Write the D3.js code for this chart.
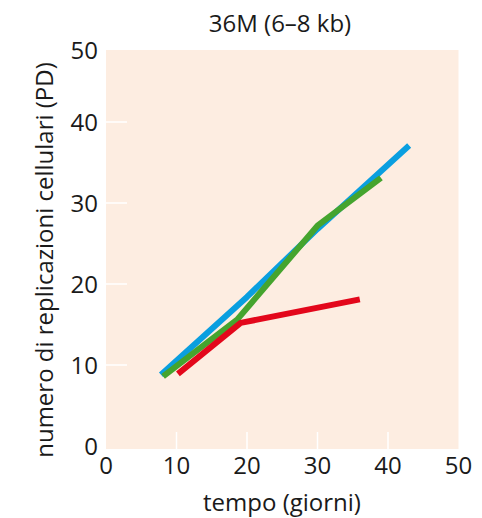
<!DOCTYPE html>
<html>
<head>
<meta charset="utf-8">
<script src="https://cdn.jsdelivr.net/npm/d3@7"></script>
<style>
  body { margin: 0; background: #fff; }
  text { font-family: "Open Sans", "Noto Sans", sans-serif; fill: #1a1a1a; }
</style>
</head>
<body>
<div id="chart"></div>
<script>
// Data
var xTicks = [0, 10, 20, 30, 40, 50];
var yTicks = [0, 10, 20, 30, 40, 50];
var blueLine = [[7.8, 8.8], [20, 18.4], [30, 26.8], [43, 37.1]];
var greenLine = [[8.1, 8.6], [18.6, 15.6], [30, 27.2], [39, 33.1]];
var redLine = [[10.2, 8.9], [19.1, 15.2], [36, 18.1]];

var width = 482;
var height = 518;

var svg = d3.select("#chart").append("svg")
  .attr("width", width)
  .attr("height", height);

var xScale = d3.scaleLinear().domain([0, 50]).range([106, 458.5]);
// the printed figure squeezes the top interval a bit
var yScale = d3.scaleLinear().domain([0, 40, 50]).range([446, 122, 50]);

/* plot background */
svg.append("rect")
  .attr("x", xScale(0))
  .attr("y", yScale(50))
  .attr("width", xScale(50) - xScale(0))
  .attr("height", yScale(0) - yScale(50) + 3)
  .style("fill", "#fdede1");

/* white inner ticks */
svg.selectAll(".xtick")
  .data(xTicks.slice(1, -1)).enter()
  .append("line")
  .attr("x1", d => xScale(d)).attr("x2", d => xScale(d))
  .attr("y1", yScale(0) + 3).attr("y2", yScale(0) - 14)
  .style("stroke", "#fff").style("stroke-width", 1.5);

svg.selectAll(".ytick")
  .data(yTicks.slice(1, -1)).enter()
  .append("line")
  .attr("x1", xScale(0)).attr("x2", xScale(0) + 21)
  .attr("y1", d => yScale(d)).attr("y2", d => yScale(d))
  .style("stroke", "#fff").style("stroke-width", 1.5);

/* tick labels */
svg.selectAll(".xlabel")
  .data(xTicks).enter()
  .append("text")
  .attr("x", d => xScale(d))
  .attr("y", 474)
  .attr("text-anchor", "middle")
  .attr("font-size", "24px")
  .text(d => d);

svg.selectAll(".ylabel")
  .data(yTicks).enter()
  .append("text")
  .attr("x", 98)
  .attr("y", d => yScale(d))
  .attr("dy", "0.36em")
  .attr("text-anchor", "end")
  .attr("font-size", "24px")
  .text(d => d);

/* lines */
var line = d3.line()
  .x(d => xScale(d[0]))
  .y(d => yScale(d[1]));

var series = [
  { values: blueLine, color: "#0a9fe0" },
  { values: greenLine, color: "#45a42e" },
  { values: redLine, color: "#e3071b" }
];

svg.selectAll(".line")
  .data(series).enter()
  .append("path")
  .attr("class", "line")
  .attr("d", d => line(d.values))
  .style("fill", "none")
  .style("stroke", d => d.color)
  .style("stroke-width", 6)
  .style("stroke-linejoin", "round");

/* titles */
svg.append("text")
  .attr("x", 280)
  .attr("y", 32)
  .attr("text-anchor", "middle")
  .attr("font-size", "24px")
  .text("36M (6\u20138 kb)");

svg.append("text")
  .attr("x", 282)
  .attr("y", 511)
  .attr("text-anchor", "middle")
  .attr("font-size", "24px")
  .text("tempo (giorni)");

svg.append("text")
  .attr("transform", "translate(53, 260) rotate(-90)")
  .attr("text-anchor", "middle")
  .attr("font-size", "24px")
  .text("numero di replicazioni cellulari (PD)");
</script>
</body>
</html>
